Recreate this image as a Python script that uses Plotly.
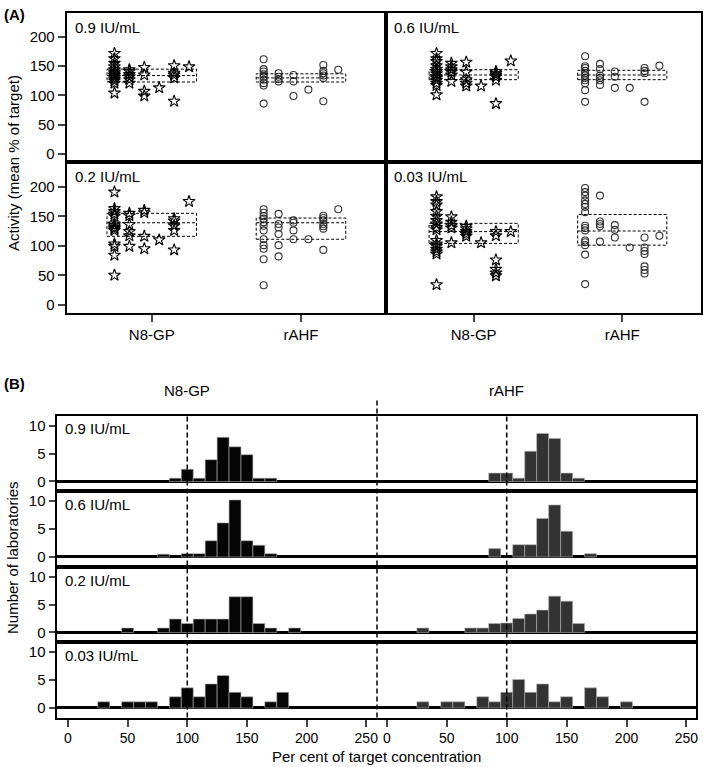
import plotly.graph_objects as go

# ---------------- Panel A data: activity (mean % of target) ----------------
CATEGORIES = ["N8-GP", "rAHF"]
CONC_LABELS = ["0.9 IU/mL", "0.6 IU/mL", "0.2 IU/mL", "0.03 IU/mL"]

# each inner list = one assay sub-group (6 per product)
N8GP_09 = [[172, 163, 155, 149, 144, 140, 137, 134, 131, 128, 125, 121, 104],
           [144, 141, 136, 132, 127, 121], [148, 135, 107, 99], [113],
           [151, 138, 135, 130, 90], [149]]
RAHF_09 = [[162, 145, 141, 136, 132, 127, 121, 117, 86], [138, 132, 128, 124],
           [135, 124, 99], [110], [152, 142, 138, 134, 130, 90], [144]]
N8GP_06 = [[172, 163, 158, 151, 145, 141, 137, 132, 130, 126, 121, 117, 101],
           [155, 149, 144, 140, 135, 124], [157, 140, 127, 121, 116], [116],
           [141, 138, 135, 132, 126, 86], [159]]
RAHF_06 = [[167, 150, 147, 142, 138, 134, 130, 126, 121, 109, 89],
           [154, 145, 134, 130, 126, 118], [141, 132, 113], [113],
           [147, 142, 138, 89], [151]]
N8GP_02 = [[191, 163, 158, 154, 150, 137, 134, 131, 129, 126, 103, 99, 84, 50],
           [155, 151, 136, 124, 117, 99], [160, 156, 116, 95], [110],
           [146, 142, 134, 126, 93], [175]]
RAHF_02 = [[162, 156, 150, 146, 140, 134, 126, 111, 101, 95, 77, 33],
           [154, 137, 131, 120, 101, 82], [143, 139, 126, 111], [111],
           [151, 147, 143, 137, 133, 129, 93], [162]]
N8GP_003 = [[183, 175, 169, 158, 150, 143, 137, 131, 127, 109, 103, 99, 94, 90, 86, 34],
            [149, 140, 134, 130, 105], [133, 129, 124, 120, 116], [105],
            [124, 117, 76, 60, 54, 49], [124]]
RAHF_003 = [[198, 191, 185, 177, 171, 166, 157, 134, 130, 126, 109, 106, 101, 85, 35],
            [185, 141, 137, 133, 107], [135, 127, 114], [97],
            [114, 97, 91, 86, 65, 59, 53], [117]]

# dashed boxes: (low, middle, high)
BOX_N8GP = [(123, 134, 145), (127, 135, 144), (116, 139, 155), (104, 124, 138)]
BOX_RAHF = [(123, 130, 137), (127, 135, 143), (111, 139, 147), (101, 125, 153)]

Y_TICKS_A = [0, 50, 100, 150, 200]

# ---------------- Panel B data: histograms (number of laboratories) ----------------
BIN_CENTERS = [30, 40, 50, 60, 70, 80, 90, 100, 110, 120, 130, 140, 150, 160, 170, 180, 190, 200]
HIST_N8GP_09 = [0, 0, 0, 0, 0, 0, 0.6, 2.2, 0.6, 3.9, 7.9, 6.2, 4.8, 0.6, 0.6, 0, 0, 0]
HIST_RAHF_09 = [0, 0, 0, 0, 0, 0, 1.5, 1.5, 0.6, 5.4, 8.6, 7.7, 1.5, 0.6, 0, 0, 0, 0]
HIST_N8GP_06 = [0, 0, 0, 0, 0, 0.5, 0, 0.6, 0.6, 2.9, 6.1, 10.2, 2.9, 2.1, 0.6, 0, 0, 0]
HIST_RAHF_06 = [0, 0, 0, 0, 0, 0, 1.5, 0, 2.2, 2.2, 6.9, 9.3, 4.6, 0, 0.6, 0, 0, 0]
HIST_N8GP_02 = [0, 0, 0.8, 0, 0, 0.8, 2.4, 1.6, 2.4, 2.4, 2.4, 6.4, 6.4, 1.6, 0.8, 0, 0.8, 0]
HIST_RAHF_02 = [0.8, 0, 0, 0, 0.8, 0.8, 1.6, 1.7, 2.5, 3.3, 4.0, 6.5, 5.6, 1.6, 0, 0, 0, 0]
HIST_N8GP_003 = [1.1, 0, 1.1, 1.1, 1.1, 0, 2.0, 3.6, 2.0, 4.3, 5.8, 2.8, 2.0, 0, 1.1, 2.8, 0, 0]
HIST_RAHF_003 = [1.1, 0, 1.1, 1.1, 0, 2.0, 1.1, 2.8, 5.1, 2.8, 4.3, 1.1, 2.0, 0, 3.6, 2.0, 0, 1.1]
X_TICKS_B = [0, 50, 100, 150, 200, 250]
Y_TICKS_B = [0, 5, 10]
TARGET = 100

# ---------------- layout geometry (pixels) ----------------
W, H = 709, 767
SUB_OFFSETS = [-0.25, -0.15, -0.05, 0.05, 0.15, 0.25]
BOX_HALF = 0.3
FONT = "Liberation Sans, Arial, Helvetica, sans-serif"


def xd(a, b):
    return [a / W, b / W]


def yd(top, bot):
    return [1 - bot / H, 1 - top / H]


AX_L, AX_R = (66.7, 386), (386, 701)
AY_T, AY_B = (12.5, 162), (162, 313)
BX_L, BX_R = (56.5, 377), (377, 696)
B_ROWS = [(415.5, 491), (491, 566.5), (566.5, 642), (642, 717.5)]

fig = go.Figure()
layout = dict(width=W, height=H, margin=dict(l=0, r=0, t=0, b=0, autoexpand=False),
              paper_bgcolor="white", plot_bgcolor="white", showlegend=False,
              font=dict(family=FONT, size=15, color="black"))
shapes, annotations = [], []

line_kw = dict(showline=True, linecolor="black", linewidth=2, showgrid=False, zeroline=False,
               automargin=False)

# ---------------- Panel A ----------------
A_PANELS = [
    (1, N8GP_09, RAHF_09, 0, AX_L, AY_T, [0.43, 2.57]),
    (2, N8GP_06, RAHF_06, 1, AX_R, AY_T, [0.41, 2.53]),
    (3, N8GP_02, RAHF_02, 2, AX_L, AY_B, [0.43, 2.57]),
    (4, N8GP_003, RAHF_003, 3, AX_R, AY_B, [0.41, 2.53]),
]
for idx, n8, ra, ci, xdom, ydom, xr in A_PANELS:
    s = "" if idx == 1 else str(idx)
    bottom = ydom is AY_B
    left = xdom is AX_L
    layout["xaxis" + s] = dict(domain=xd(*xdom), range=xr, anchor="y" + s, mirror=True,
                               tickvals=[1, 2], ticktext=CATEGORIES,
                               ticks="outside" if bottom else "", ticklen=7, tickwidth=2,
                               showticklabels=bottom, tickfont=dict(size=15), **line_kw)
    layout["yaxis" + s] = dict(domain=yd(*ydom), range=[-14, 242], anchor="x" + s, mirror=True,
                               tickvals=Y_TICKS_A, ticks="outside" if left else "",
                               ticklen=7, tickwidth=2, showticklabels=left,
                               tickfont=dict(size=15), **line_kw)
    for cat, data, sym, col, sz in [(1, n8, "star-open", "black", 9),
                                    (2, ra, "circle-open", "#333333", 7)]:
        xs, ys = [], []
        for j, grp in enumerate(data):
            for v in grp:
                xs.append(cat + SUB_OFFSETS[j])
                ys.append(v)
        fig.add_trace(go.Scatter(x=xs, y=ys, mode="markers", xaxis="x" + s, yaxis="y" + s,
                                 marker=dict(symbol=sym, size=sz, color=col, line=dict(width=1.1, color=col))))
    for cat, box in [(1, BOX_N8GP[ci]), (2, BOX_RAHF[ci])]:
        lo, mid, hi = box
        dl = dict(color="black", width=1, dash="3px,2px")
        shapes.append(dict(type="rect", xref="x" + s, yref="y" + s, x0=cat - BOX_HALF, x1=cat + BOX_HALF,
                           y0=lo, y1=hi, line=dl))
        shapes.append(dict(type="line", xref="x" + s, yref="y" + s, x0=cat - BOX_HALF, x1=cat + BOX_HALF,
                           y0=mid, y1=mid, line=dl))
    annotations.append(dict(text=CONC_LABELS[ci], xref="paper", yref="paper",
                            x=(xdom[0] + 6) / W, y=1 - (ydom[0] + 4) / H,
                            xanchor="left", yanchor="top", showarrow=False, font=dict(size=15)))

# ---------------- Panel B ----------------
B_DATA = [(HIST_N8GP_09, HIST_RAHF_09), (HIST_N8GP_06, HIST_RAHF_06),
          (HIST_N8GP_02, HIST_RAHF_02), (HIST_N8GP_003, HIST_RAHF_003)]
for i, (hn, hr) in enumerate(B_DATA):
    kl, kr = 5 + 2 * i, 6 + 2 * i
    last = i == 3
    for k, xdom, xr, side, hist, color in [(kl, BX_L, [-9.6, 259], "left", hn, "#050505"),
                                           (kr, BX_R, [-8.3, 258], "right", hr, "#333333")]:
        layout["xaxis%d" % k] = dict(domain=xd(*xdom), range=xr, anchor="y%d" % k, mirror=True,
                                     tickvals=X_TICKS_B, ticks="outside" if last else "",
                                     ticklen=7, tickwidth=2, showticklabels=last,
                                     tickfont=dict(size=14), **line_kw)
        layout["yaxis%d" % k] = dict(domain=yd(*B_ROWS[i]), range=[-1.7, 11.8], anchor="x%d" % k,
                                     side=side, showline=True, linecolor="black", linewidth=2,
                                     showgrid=False, zeroline=True, zerolinecolor="black",
                                     zerolinewidth=2.5, tickvals=Y_TICKS_B, automargin=False,
                                     ticks="outside" if side == "left" else "", ticklen=6, tickwidth=2,
                                     showticklabels=side == "left", tickfont=dict(size=15))
        xs = [c for c, h in zip(BIN_CENTERS, hist) if h > 0]
        ys = [h for h in hist if h > 0]
        fig.add_trace(go.Bar(x=xs, y=ys, width=10, xaxis="x%d" % k, yaxis="y%d" % k,
                             marker=dict(color=color, line=dict(color="#b0b0b0", width=0.6))))
    annotations.append(dict(text=CONC_LABELS[i], xref="paper", yref="paper",
                            x=(BX_L[0] + 6) / W, y=1 - (B_ROWS[i][0] + 13.5) / H,
                            xanchor="left", yanchor="middle", showarrow=False, font=dict(size=15)))

dash_b = dict(color="black", width=1.5, dash="5px,3px")
b_top = 1 - B_ROWS[0][0] / H
b_bot = 1 - B_ROWS[3][1] / H
for ax in ["x5", "x6"]:
    shapes.append(dict(type="line", xref=ax, yref="paper", x0=TARGET, x1=TARGET, y0=b_bot, y1=b_top, line=dash_b))
shapes.append(dict(type="line", xref="paper", yref="paper", x0=BX_L[1] / W, x1=BX_L[1] / W,
                   y0=b_bot, y1=1 - 400 / H, line=dash_b))

annotations += [
    dict(text="<b>(A)</b>", xref="paper", yref="paper", x=2 / W, y=1 - 4 / H, xanchor="left",
         yanchor="top", showarrow=False, font=dict(size=15)),
    dict(text="<b>(B)</b>", xref="paper", yref="paper", x=2 / W, y=1 - 373 / H, xanchor="left",
         yanchor="top", showarrow=False, font=dict(size=15)),
    dict(text="Activity (mean % of target)", xref="paper", yref="paper", x=13 / W, y=1 - 163 / H,
         textangle=-90, xanchor="center", yanchor="middle", showarrow=False, font=dict(size=15)),
    dict(text="Number of laboratories", xref="paper", yref="paper", x=12 / W, y=1 - 558 / H,
         textangle=-90, xanchor="center", yanchor="middle", showarrow=False, font=dict(size=15)),
    dict(text=CATEGORIES[0], xref="x5", yref="paper", x=TARGET, y=1 - 390 / H,
         xanchor="center", yanchor="middle", showarrow=False, font=dict(size=15)),
    dict(text=CATEGORIES[1], xref="x6", yref="paper", x=TARGET, y=1 - 390 / H,
         xanchor="center", yanchor="middle", showarrow=False, font=dict(size=15)),
    dict(text="Per cent of target concentration", xref="paper", yref="paper", x=377 / W, y=1 - 756 / H,
         xanchor="center", yanchor="middle", showarrow=False, font=dict(size=15)),
]

layout["shapes"] = shapes
layout["annotations"] = annotations
fig.update_layout(**layout)
fig.write_html("out.html", config={"displayModeBar": False},
               post_script="document.body.style.margin='0px';document.body.style.padding='0px';"
                           "document.body.style.overflow='hidden';")
